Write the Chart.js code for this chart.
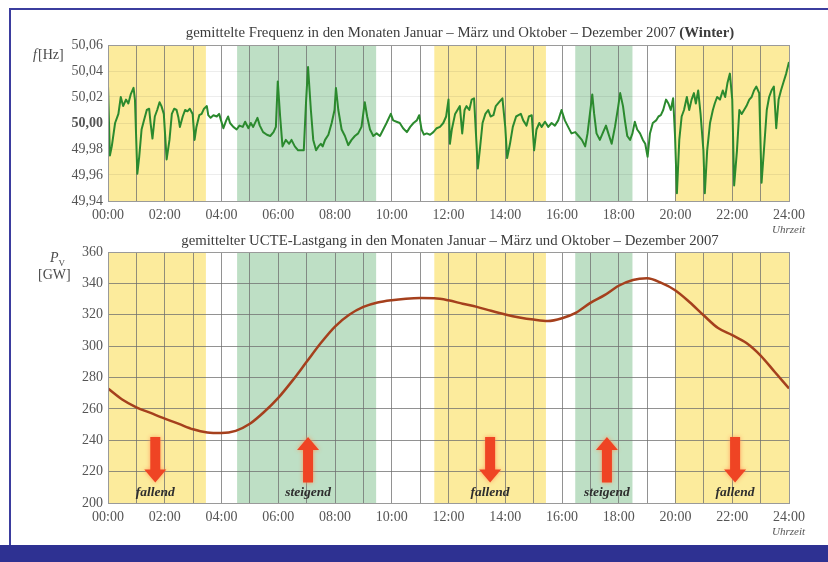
<!DOCTYPE html>
<html>
<head>
<meta charset="utf-8">
<script src="https://cdn.jsdelivr.net/npm/chart.js@4/dist/chart.umd.min.js"></script>
<style>
  html, body { margin: 0; padding: 0; background: #ffffff; }
  #page { position: relative; width: 828px; height: 562px; overflow: hidden; background: #ffffff;
          font-family: "Liberation Serif", "DejaVu Serif", serif; color: #4a4a4a; }
  #frameTop  { position: absolute; left: 9px; top: 8px; width: 819px; height: 2px; background: #3b3d9e; }
  #frameLeft { position: absolute; left: 9px; top: 8px; width: 2px; height: 537px; background: #3b3d9e; }
  #footer    { position: absolute; left: 0; top: 545px; width: 828px; height: 17px; background: #2e3192; }
  canvas { position: absolute; left: 0; }
  #freqCanvas { top: 0; }
  #loadCanvas { top: 225px; }
  .txt { position: absolute; white-space: nowrap; line-height: 1; }
  .title { font-size: 14.8px; color: #3c3c3c; text-align: center; }
  .unit { font-size: 14px; color: #4a4a4a; }
  .clock { font-size: 11px; font-style: italic; color: #555; }
</style>
</head>
<body>
<div id="page">
  <div id="frameTop"></div>
  <div id="frameLeft"></div>
  <canvas id="freqCanvas" width="828" height="225"></canvas>
  <canvas id="loadCanvas" width="828" height="320"></canvas>

  <div class="txt title" style="left:160px; width:600px; top:25px;">gemittelte Frequenz in den Monaten Januar – März und Oktober – Dezember 2007 <b>(Winter)</b></div>
  <div class="txt title" style="left:150px; width:600px; top:233px;">gemittelter UCTE-Lastgang in den Monaten Januar – März und Oktober – Dezember 2007</div>

  <div class="txt unit" style="left:33px; top:48px;"><i>f</i>&#8202;[Hz]</div>
  <div class="txt unit" style="left:50px; top:251px;"><i>P</i><sub style="font-size:9px;">V</sub></div>
  <div class="txt unit" style="left:38px; top:268px;">[GW]</div>

  <div class="txt clock" style="left:772px; top:224px;">Uhrzeit</div>
  <div class="txt clock" style="left:772px; top:526px;">Uhrzeit</div>

  <div id="footer"></div>
</div>

<script>
// Averaged grid frequency over the day (minutes after midnight, Hz)
const freqMinutes = [
  0,4,8,15,22,27,32,38,43,48,
  54,57,62,66,71,76,82,87,90,94,
  99,104,109,113,118,124,130,135,140,145,
  149,152,158,163,168,173,179,183,187,193,
  198,203,209,212,217,223,230,235,239,244,
  250,254,258,265,272,278,285,290,297,302,
  307,316,321,328,336,343,350,355,359,364,
  369,376,383,388,395,402,410,414,419,423,
  429,434,440,445,450,454,459,466,473,479,
  482,487,494,501,508,515,522,529,536,543,
  548,554,561,568,575,582,589,598,603,610,
  617,624,632,639,646,653,658,663,668,674,
  681,688,695,702,709,715,720,723,727,734,
  739,744,749,754,758,764,769,774,778,782,
  787,792,798,804,809,815,820,827,834,840,
  844,850,856,863,868,873,878,885,890,896,
  901,906,912,917,924,931,938,945,952,959,
  966,973,980,988,995,1002,1009,1014,1019,1024,
  1028,1033,1040,1047,1053,1058,1065,1072,1079,1083,
  1089,1093,1098,1104,1109,1114,1119,1125,1131,1136,
  1141,1146,1152,1159,1164,1169,1174,1180,1185,1190,
  1195,1199,1203,1208,1213,1218,1224,1229,1234,1239,
  1243,1248,1253,1259,1262,1267,1273,1279,1283,1288,
  1294,1300,1305,1310,1315,1320,1324,1330,1335,1340,
  1345,1350,1356,1361,1366,1371,1377,1382,1387,1393,
  1398,1403,1408,1413,1418,1423,1428,1434,1440
];
const freqHz = [
  50.029,49.975,49.982,50.000,50.007,50.020,50.013,50.018,50.015,50.022,
  50.027,50.018,49.961,49.974,49.995,50.002,50.010,50.011,50.000,49.988,
  50.005,50.010,50.016,50.013,50.007,49.972,49.987,50.007,50.011,50.010,
  50.004,49.997,50.005,50.010,50.009,50.011,50.007,49.987,49.997,50.006,
  50.007,50.011,50.013,50.006,50.004,50.006,50.005,50.007,50.002,49.996,
  50.002,50.005,50.000,49.997,49.995,49.998,49.997,50.001,49.996,50.000,
  49.997,50.004,49.998,49.993,49.991,49.990,49.993,49.997,50.032,50.005,
  49.982,49.987,49.984,49.987,49.982,49.979,49.979,49.979,50.018,50.043,
  50.010,49.987,49.979,49.982,49.984,49.982,49.987,49.991,50.000,50.010,
  50.027,50.010,49.995,49.990,49.983,49.987,49.990,49.992,49.997,50.016,
  50.005,49.995,49.990,49.992,49.990,49.995,50.000,50.007,50.002,50.001,
  50.000,49.996,49.993,49.997,50.000,50.002,50.006,49.995,49.991,49.992,
  49.991,49.993,49.996,49.997,50.000,50.005,50.018,49.984,49.995,50.007,
  50.010,50.013,49.992,50.010,50.013,50.010,50.018,50.019,49.992,49.965,
  49.982,50.000,50.007,50.010,50.005,50.006,50.013,50.016,50.019,49.997,
  49.973,49.984,49.997,50.005,50.006,50.007,50.002,49.998,50.005,50.006,
  49.979,49.995,50.000,49.997,50.001,49.997,50.000,49.998,50.002,50.010,
  50.002,49.997,49.992,49.993,49.990,49.987,49.982,49.992,50.007,50.022,
  50.007,49.992,49.987,49.993,49.998,49.992,49.984,49.997,50.013,50.023,
  50.013,50.002,49.990,49.987,49.992,50.001,49.995,49.992,49.987,49.984,
  49.974,49.992,50.000,50.002,50.005,50.006,50.010,50.018,50.015,50.010,
  50.019,49.990,49.946,49.987,50.005,50.010,50.020,50.010,50.018,50.023,
  50.015,50.025,50.007,49.979,49.946,49.979,50.000,50.010,50.015,50.020,
  50.018,50.025,50.020,50.031,50.038,50.018,49.952,49.979,50.010,50.007,
  50.010,50.013,50.018,50.020,50.025,50.028,50.023,49.954,49.979,50.010,
  50.020,50.025,50.028,49.996,50.018,50.025,50.031,50.038,50.047
];

// Averaged UCTE load (minutes after midnight, GW)
const loadMinutes = [
  0,30,60,90,120,150,180,210,240,270,
  300,330,360,390,420,450,480,510,540,570,
  600,630,660,690,720,750,780,810,840,870,
  900,930,960,990,1020,1050,1080,1110,1140,1170,
  1200,1230,1260,1290,1320,1350,1380,1410,1440
];
const loadGW = [
  273,266,261,257.4,253.8,250.4,247,245,244.6,246,
  250.5,258,267,278,290,302,312.5,320,325,327.8,
  329.3,330.2,330.6,330.5,329.2,327,325,322.5,320.2,318.3,
  316.9,316,317.8,321.4,327.6,332.5,338.5,342.2,343.2,340.3,
  335.5,328,319.5,311.5,307,302,294,283.5,273
];

// Tick values
const hourTicks = [];
for (let m = 0; m <= 1440; m += 60) hourTicks.push(m);
const freqTicks = [49.94, 49.96, 49.98, 50.00, 50.02, 50.04, 50.06];
const loadTicks = [200, 220, 240, 260, 280, 300, 320, 340, 360];

// Time windows: falling load (yellow) and rising load (green), in minutes
const bandStart = [0, 273, 690, 988, 1199];
const bandEnd   = [207, 567, 926, 1109, 1440];
const bandKind  = ['fallend', 'steigend', 'fallend', 'steigend', 'fallend'];

// Trend markers in the load chart
const trendMinutes = [100, 423, 808, 1055, 1326];
const trendLabels  = ['fallend', 'steigend', 'fallend', 'steigend', 'fallend'];

const BAND_COLORS = { fallend: 'rgb(252,235,156)', steigend: 'rgb(190,223,197)' };
const SERIF = '"Liberation Serif", "DejaVu Serif", serif';

function clockLabel(v) {
  if (v % 120 !== 0) return '';
  const h = Math.round(v / 60);
  return (h < 10 ? '0' : '') + h + ':00';
}

const bandsPlugin = {
  id: 'bands',
  beforeDraw(chart) {
    const { ctx, chartArea, scales } = chart;
    ctx.save();
    for (let i = 0; i < bandStart.length; i++) {
      const x0 = scales.x.getPixelForValue(bandStart[i]);
      const x1 = scales.x.getPixelForValue(bandEnd[i]);
      ctx.fillStyle = BAND_COLORS[bandKind[i]];
      ctx.fillRect(x0, chartArea.top, x1 - x0, chartArea.bottom - chartArea.top);
    }
    ctx.restore();
  },
  afterDraw(chart) {
    const { ctx, chartArea } = chart;
    ctx.save();
    ctx.strokeStyle = '#9a9a9a';
    ctx.lineWidth = 1;
    ctx.strokeRect(Math.round(chartArea.left) + 0.5, Math.round(chartArea.top) + 0.5,
                   Math.round(chartArea.right - chartArea.left), Math.round(chartArea.bottom - chartArea.top));
    ctx.restore();
  }
};

const trendPlugin = {
  id: 'trends',
  afterDatasetsDraw(chart) {
    const { ctx, chartArea, scales } = chart;
    const yHigh = scales.y.getPixelForValue(242);
    const yLow = scales.y.getPixelForValue(213);
    ctx.save();
    for (let i = 0; i < trendMinutes.length; i++) {
      const x = scales.x.getPixelForValue(trendMinutes[i]);
      const down = trendLabels[i] === 'fallend';
      const shaft = 5, head = 11, headLen = 13;
      ctx.beginPath();
      if (down) {
        ctx.moveTo(x - shaft, yHigh);
        ctx.lineTo(x + shaft, yHigh);
        ctx.lineTo(x + shaft, yLow - headLen);
        ctx.lineTo(x + head, yLow - headLen);
        ctx.lineTo(x, yLow);
        ctx.lineTo(x - head, yLow - headLen);
        ctx.lineTo(x - shaft, yLow - headLen);
      } else {
        ctx.moveTo(x - shaft, yLow);
        ctx.lineTo(x + shaft, yLow);
        ctx.lineTo(x + shaft, yHigh + headLen);
        ctx.lineTo(x + head, yHigh + headLen);
        ctx.lineTo(x, yHigh);
        ctx.lineTo(x - head, yHigh + headLen);
        ctx.lineTo(x - shaft, yHigh + headLen);
      }
      ctx.closePath();
      ctx.shadowColor = 'rgba(255,150,90,0.9)';
      ctx.shadowBlur = 4;
      ctx.fillStyle = '#ef4424';
      ctx.fill();
      ctx.shadowBlur = 0;

      ctx.fillStyle = '#2e2e2e';
      ctx.font = 'italic bold 13.5px ' + SERIF;
      ctx.textAlign = 'center';
      ctx.textBaseline = 'middle';
      ctx.fillText(trendLabels[i], x, chartArea.bottom - 10);
    }
    ctx.restore();
  }
};

function xScale(height, gridColor) {
  return {
    type: 'linear', min: 0, max: 1440,
    afterBuildTicks: s => { s.ticks = hourTicks.map(v => ({ value: v })); },
    afterFit: s => { s.height = height; },
    grid: { color: gridColor, lineWidth: 1, drawTicks: false },
    border: { display: false },
    ticks: {
      autoSkip: false, maxRotation: 0, padding: 6,
      color: '#555', font: { family: SERIF, size: 14 },
      callback: v => clockLabel(v)
    }
  };
}

function freqTickFont(ctx) {
  const isNominal = ctx && ctx.tick && Math.abs(ctx.tick.value - 50) < 1e-6;
  return { family: SERIF, size: 14, weight: isNominal ? 'bold' : 'normal' };
}

new Chart(document.getElementById('freqCanvas'), {
  type: 'line',
  data: {
    datasets: [{
      data: freqMinutes.map((m, i) => ({ x: m, y: freqHz[i] })),
      borderColor: '#2b8a2e', borderWidth: 2, pointRadius: 0, tension: 0,
      borderJoinStyle: 'round'
    }]
  },
  options: {
    responsive: false, animation: false, parsing: false,
    layout: { padding: { left: 0, right: 39, top: 45, bottom: 0 } },
    plugins: { legend: { display: false }, tooltip: { enabled: false }, title: { display: false } },
    scales: {
      x: xScale(24, 'rgba(110,110,110,0.75)'),
      y: {
        min: 49.94, max: 50.06,
        afterBuildTicks: s => { s.ticks = freqTicks.map(v => ({ value: v })); },
        afterFit: s => { s.width = 108; },
        grid: { color: 'rgba(0,0,0,0.07)', drawTicks: false },
        border: { display: false },
        ticks: {
          padding: 5, color: '#555',
          font: freqTickFont,
          callback: v => Number(v).toFixed(2).replace('.', ',')
        }
      }
    }
  },
  plugins: [bandsPlugin]
});

new Chart(document.getElementById('loadCanvas'), {
  type: 'line',
  data: {
    datasets: [{
      data: loadMinutes.map((m, i) => ({ x: m, y: loadGW[i] })),
      borderColor: '#a5401d', borderWidth: 2.5, pointRadius: 0,
      cubicInterpolationMode: 'monotone'
    }]
  },
  options: {
    responsive: false, animation: false, parsing: false,
    layout: { padding: { left: 0, right: 39, top: 27, bottom: 0 } },
    plugins: { legend: { display: false }, tooltip: { enabled: false }, title: { display: false } },
    scales: {
      x: xScale(42, 'rgba(110,110,110,0.75)'),
      y: {
        min: 200, max: 360,
        afterBuildTicks: s => { s.ticks = loadTicks.map(v => ({ value: v })); },
        afterFit: s => { s.width = 108; },
        grid: { color: 'rgba(110,110,110,0.75)', drawTicks: false },
        border: { display: false },
        ticks: { padding: 5, color: '#555', font: { family: SERIF, size: 14 } }
      }
    }
  },
  plugins: [bandsPlugin, trendPlugin]
});
</script>
</body>
</html>
